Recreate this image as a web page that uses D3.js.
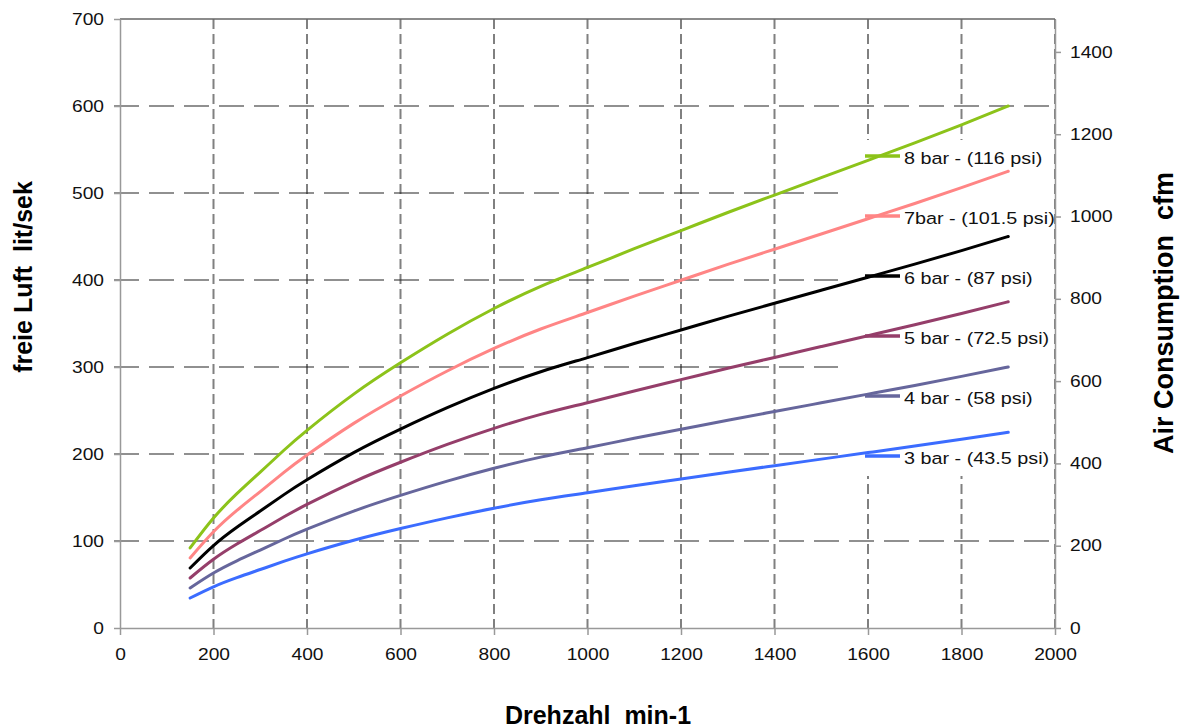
<!DOCTYPE html>
<meta charset="utf-8">
<style>
body { margin: 0; background: #fff; }
text { font-family: "Liberation Sans", Arial, sans-serif; fill: #111; }
.axis path, .axis line { fill: none; stroke: #999; stroke-width: 1.5; }
.vgrid { stroke: #808080; stroke-width: 2; stroke-dasharray: 10,5; }
.hgrid { stroke: #222; stroke-width: 1.2; stroke-dasharray: 25,10; }
.series { fill: none; stroke-width: 3; stroke-linejoin: round; stroke-linecap: round; }
.title { font-weight: bold; font-size: 25px; white-space: pre; fill: #000; }
</style>
<body>
<script src="https://d3js.org/d3.v7.min.js"></script>
<script>

var width = 1192;
var height = 728;

// rpm values
var rpm = [150, 200, 250, 300, 350, 400, 500, 600, 700, 800, 900, 1000, 1100, 1200, 1300, 1400, 1500, 1600, 1700, 1800, 1900];

// free air, lit/sek
var bar3 = [34.5, 47.4, 57.9, 67.2, 76.5, 85.2, 100.8, 114.3, 126.6, 137.7, 147.3, 155.4, 163.5, 171.3, 179.1, 186.6, 194.1, 201.6, 209.1, 216.9, 225];
var bar4 = [46, 63.2, 77.2, 89.6, 102, 113.6, 134.4, 152.4, 168.8, 183.6, 196.4, 207.2, 218, 228.4, 238.8, 248.8, 258.8, 268.8, 278.8, 289.2, 300];
var bar5 = [57.5, 79, 96.5, 112, 127.5, 142, 168, 190.5, 211, 229.5, 245.5, 259, 272.5, 285.5, 298.5, 311, 323.5, 336, 348.5, 361.5, 375];
var bar6 = [69, 94.8, 115.8, 134.4, 153, 170.4, 201.6, 228.6, 253.2, 275.4, 294.6, 310.8, 327, 342.6, 358.2, 373.2, 388.2, 403.2, 418.2, 433.8, 450];
var bar7 = [80.5, 110.6, 135.1, 156.8, 178.5, 198.8, 235.2, 266.7, 295.4, 321.3, 343.7, 362.6, 381.5, 399.7, 417.9, 435.4, 452.9, 470.4, 487.9, 506.1, 525];
var bar8 = [92, 126.4, 154.4, 179.2, 204, 227.2, 268.8, 304.8, 337.6, 367.2, 392.8, 414.4, 436, 456.8, 477.6, 497.6, 517.6, 537.6, 557.6, 578.4, 600];

var seriesNames = ['8 bar - (116 psi)', '7bar - (101.5 psi)', '6 bar - (87 psi)', '5 bar - (72.5 psi)', '4 bar - (58 psi)', '3 bar - (43.5 psi)'];
var seriesValues = [bar8, bar7, bar6, bar5, bar4, bar3];
var colors = ['#8cc31a', '#ff8585', '#000000', '#953e6a', '#66669c', '#3b6cff'];

var xTicks = [0, 200, 400, 600, 800, 1000, 1200, 1400, 1600, 1800, 2000];
var yTicks = [0, 100, 200, 300, 400, 500, 600, 700];
var y2Ticks = [0, 200, 400, 600, 800, 1000, 1200, 1400];

var x = d3.scaleLinear().domain([0, 2000]).range([120, 1055]);
var y = d3.scaleLinear().domain([0, 700]).range([628, 19]);
var y2 = d3.scaleLinear().domain([0, 1480]).range([628, 19]);

var svg = d3.select('body')
  .append('svg')
  .attr('width', width)
  .attr('height', height);

// grid
svg.selectAll('.vgrid')
  .data(xTicks.slice(1))
  .enter()
  .append('line')
  .attr('class', 'vgrid')
  .attr('x1', d => x(d))
  .attr('x2', d => x(d))
  .attr('y1', y(700))
  .attr('y2', y(0));

svg.selectAll('.hgrid')
  .data([100, 200, 300, 400, 500, 600])
  .enter()
  .append('line')
  .attr('class', 'hgrid')
  .attr('x1', x(0) - 6)
  .attr('x2', x(2000))
  .attr('y1', d => y(d))
  .attr('y2', d => y(d));

// legend background hides the grid behind it
svg.append('rect')
  .attr('x', 838)
  .attr('y', 140)
  .attr('width', 215)
  .attr('height', 336)
  .attr('fill', '#fff');

// top border
svg.append('line')
  .attr('x1', x(0)).attr('x2', x(2000))
  .attr('y1', y(700)).attr('y2', y(700))
  .attr('stroke', '#666')
  .attr('stroke-width', 1.5);

// axes
var sx = 1.2;  // labels in the picture are drawn wide
var fmt = d3.format('d');

var gLeft = svg.append('g')
  .attr('class', 'axis')
  .attr('transform', 'translate(' + x(0) + ',0)')
  .call(d3.axisLeft(y).tickValues(yTicks).tickFormat(fmt).tickSize(6).tickSizeOuter(0).tickPadding(10));
gLeft.selectAll('text')
  .attr('x', -16 / sx)
  .attr('transform', 'scale(' + sx + ',1)');

var gBottom = svg.append('g')
  .attr('class', 'axis')
  .attr('transform', 'translate(0,' + y(0) + ')')
  .call(d3.axisBottom(x).tickValues(xTicks).tickFormat(fmt).tickSize(7).tickSizeOuter(0).tickPadding(14));
gBottom.selectAll('text')
  .attr('transform', 'scale(' + sx + ',1)');

var gRight = svg.append('g')
  .attr('class', 'axis')
  .attr('transform', 'translate(' + x(2000) + ',0)')
  .call(d3.axisRight(y2).tickValues(y2Ticks).tickFormat(fmt).tickSize(6).tickSizeOuter(0).tickPadding(9));
gRight.selectAll('text')
  .attr('x', 15 / sx)
  .attr('transform', 'scale(' + sx + ',1)');

svg.selectAll('.axis text')
  .attr('fill', '#111')
  .style('font-size', '16px');

// curves
var line = d3.line()
  .x((d, i) => x(rpm[i]))
  .y(d => y(d))
  .curve(d3.curveNatural);

svg.selectAll('.series')
  .data(seriesValues)
  .enter()
  .append('path')
  .attr('class', 'series')
  .attr('stroke', (d, i) => colors[i])
  .attr('d', line);

// legend
var legend = svg.selectAll('.legend')
  .data(seriesNames)
  .enter()
  .append('g')
  .attr('class', 'legend')
  .attr('transform', (d, i) => 'translate(865,' + (156 + i * 60) + ')');

legend.append('line')
  .attr('x1', 0).attr('x2', 35)
  .attr('y1', 0).attr('y2', 0)
  .attr('stroke', (d, i) => colors[i])
  .attr('stroke-width', 3.5);

legend.append('text')
  .attr('transform', 'translate(39,7.5) scale(' + sx + ',1)')
  .style('font-size', '16.5px')
  .text(d => d);

// axis titles
svg.append('text')
  .attr('class', 'title')
  .attr('text-anchor', 'middle')
  .attr('transform', 'translate(32,277) rotate(-90)')
  .text('freie Luft  lit/sek');

svg.append('text')
  .attr('class', 'title')
  .attr('text-anchor', 'middle')
  .style('font-size', '27px')
  .attr('transform', 'translate(1173,313) rotate(-90)')
  .text('Air Consumption  cfm');

svg.append('text')
  .attr('class', 'title')
  .attr('text-anchor', 'middle')
  .attr('x', 598)
  .attr('y', 724)
  .text('Drehzahl  min-1');

</script>
</body>
</html>
